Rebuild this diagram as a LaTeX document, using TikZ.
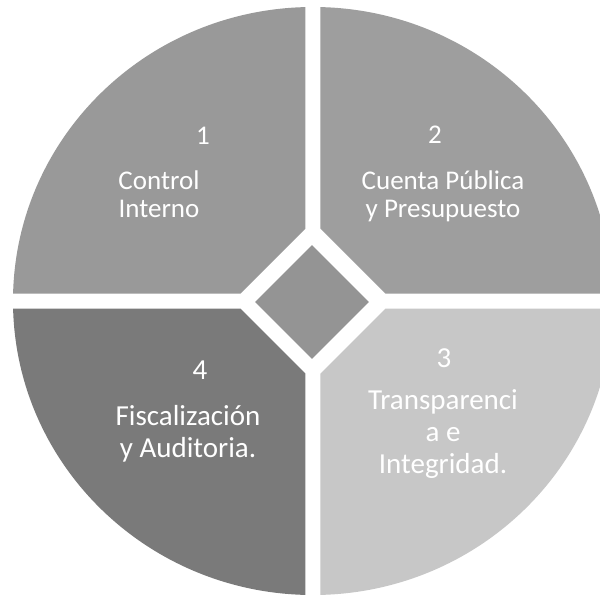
\documentclass[tikz,border=0pt]{standalone}
\usepackage{fontspec}
\setmainfont{Carlito}
\usetikzlibrary{shapes.geometric}

\definecolor{cuadA}{gray}{0.60}
\definecolor{cuadB}{gray}{0.62}
\definecolor{cuadC}{gray}{0.78}
\definecolor{cuadD}{gray}{0.48}
\definecolor{rombo}{gray}{0.58}

\begin{document}
\begin{tikzpicture}[x=1pt,y=1pt,
  numero/.style={text=white,font=\fontsize{27}{29}\selectfont},
  texto/.style={text=white,align=center,font=\fontsize{27}{28}\selectfont},
  grande/.style={font=\fontsize{29}{32}\selectfont}]
% Variables
\def\rx{300}  % semieje horizontal
\def\ry{294}  % semieje vertical
\def\g{7.5}   % mitad del hueco blanco
\def\b{80}    % corte diagonal de cada cuadrante

% Area de la figura
\useasboundingbox (-313,-297) rectangle (287,301);
\fill[white] (-313,-297) rectangle (287,301);

% Los cuatro cuadrantes
\begin{scope}
\clip (0,0) ellipse ({\rx} and {\ry});
\foreach \sx/\sy/\col in {-1/1/cuadA,1/1/cuadB,1/-1/cuadC,-1/-1/cuadD} {
    \fill[\col] ({\sx*\g},{\sy*(\b-\g)}) -- ({\sx*(\b-\g)},{\sy*\g})
        -- ({\sx*400},{\sy*\g}) -- ({\sx*400},{\sy*400}) -- ({\sx*\g},{\sy*400}) -- cycle;
}
\end{scope}

% Rombo central
\node[diamond,fill=rombo,minimum width=114pt,minimum height=114pt,inner sep=0pt] (centro) at (-1,-1) {};

% Textos
\node[numero] (n1) at (-110,165) {1};
\node[texto] (t1) at (-154,107) {Control\\Interno};
\node[numero] (n2) at (122,166) {2};
\node[texto] (t2) at (130,105) {Cuenta Pública\\y Presupuesto};
\node[numero,grande] (n3) at (131,-57) {3};
\node[texto,grande] (t3) at (130,-133) {Transparenci\\a e\\Integridad.};
\node[numero,grande] (n4) at (-113,-69) {4};
\node[texto,grande] (t4) at (-125,-133) {Fiscalización\\y Auditoria.};

\end{tikzpicture}
\end{document}
